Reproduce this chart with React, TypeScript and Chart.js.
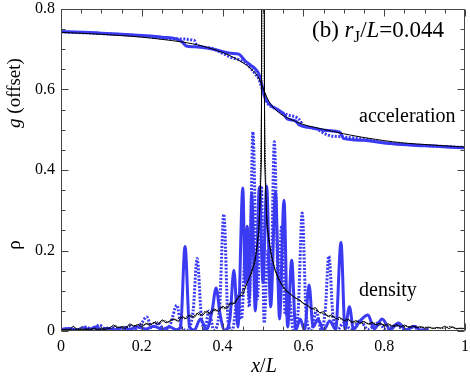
import React, { useEffect, useRef } from 'react';
import { Chart, registerables } from 'chart.js';

Chart.register(...registerables);

// ---- axis ticks ----
const X_TICKS = [0, 0.2, 0.4, 0.6, 0.8, 1];
const X_TICK_LABELS = ['0', '0.2', '0.4', '0.6', '0.8', '1'];
const Y_TICKS = [0, 0.2, 0.4, 0.6, 0.8];
const Y_TICK_LABELS = ['0', '0.2', '0.4', '0.6', '0.8'];

// ---- acceleration (offset) curves: [x/L, g] ----
const ACC_BLACK: [number, number][] = [
  [0, 0.742], [0.1, 0.737], [0.2, 0.730], [0.3, 0.718], [0.35, 0.708], [0.4, 0.692],
  [0.43, 0.678], [0.46, 0.660], [0.48, 0.642], [0.49, 0.628], [0.5, 0.604], [0.51, 0.580],
  [0.52, 0.562], [0.54, 0.542], [0.56, 0.530], [0.6, 0.513], [0.65, 0.501], [0.7, 0.490],
  [0.76, 0.479], [0.84, 0.468], [0.92, 0.462], [1.0, 0.457],
];
const ACC_SOLID: [number, number][] = [
  [0, 0.744], [0.1, 0.740], [0.2, 0.734], [0.25, 0.730], [0.29, 0.724], [0.30, 0.718],
  [0.31, 0.708], [0.33, 0.706], [0.36, 0.703], [0.39, 0.697], [0.42, 0.690], [0.44, 0.688],
  [0.455, 0.672], [0.47, 0.660], [0.48, 0.652], [0.49, 0.638], [0.50, 0.600], [0.505, 0.580],
  [0.52, 0.560], [0.54, 0.548], [0.55, 0.540], [0.56, 0.527], [0.58, 0.522], [0.59, 0.512],
  [0.62, 0.505], [0.66, 0.498], [0.69, 0.494], [0.70, 0.478], [0.75, 0.474], [0.8, 0.467],
  [0.9, 0.460], [1.0, 0.455],
];
const ACC_DOT: [number, number][] = [
  [0, 0.743], [0.1, 0.739], [0.2, 0.733], [0.28, 0.726], [0.33, 0.722], [0.335, 0.712],
  [0.37, 0.703], [0.40, 0.690], [0.42, 0.680], [0.44, 0.674], [0.46, 0.664], [0.47, 0.652],
  [0.48, 0.640], [0.49, 0.625], [0.50, 0.595], [0.51, 0.568], [0.53, 0.553], [0.56, 0.537],
  [0.58, 0.532], [0.59, 0.525], [0.60, 0.510], [0.63, 0.503], [0.66, 0.487], [0.70, 0.482],
  [0.75, 0.477], [0.8, 0.468], [0.9, 0.461], [1.0, 0.456],
];

// ---- density curves: [x/L, rho] ----
const RHO_SOLID: [number, number][] = [
  [0, 0.004], [0.02, 0.006], [0.04, 0.003], [0.055, 0.008], [0.07, 0.004], [0.085, 0.010],
  [0.1, 0.004], [0.115, 0.007], [0.13, 0.003], [0.15, 0.008], [0.17, 0.004], [0.19, 0.010],
  [0.21, 0.005], [0.23, 0.012], [0.25, 0.004], [0.27, 0.010], [0.285, 0.003], [0.296, 0.010],
  [0.307, 0.210], [0.318, 0.010], [0.33, 0.002], [0.345, 0.030], [0.36, 0.004], [0.374, 0.050],
  [0.384, 0.107], [0.394, 0.040], [0.405, 0.002], [0.418, 0.030], [0.428, 0.151], [0.438, 0.010],
  [0.45, 0.355], [0.456, 0.120], [0.461, 0.260], [0.466, 0.080], [0.472, 0.343], [0.481, 0.050],
  [0.491, 0.358], [0.5, 0.120], [0.509, 0.360], [0.519, 0.060], [0.531, 0.346], [0.541, 0.030],
  [0.552, 0.325], [0.561, 0.010], [0.571, 0.176], [0.581, 0.002], [0.592, 0.030], [0.603, 0.002],
  [0.614, 0.114], [0.624, 0.010], [0.636, 0.030], [0.65, 0.002], [0.665, 0.025], [0.68, 0.004],
  [0.693, 0.220], [0.703, 0.004], [0.714, 0.060], [0.724, 0.004], [0.74, 0.025], [0.76, 0.040],
  [0.775, 0.005], [0.795, 0.030], [0.815, 0.004], [0.835, 0.020], [0.855, 0.003], [0.875, 0.012],
  [0.89, 0.002], [0.91, 0.004],
];
const RHO_DOT: [number, number][] = [
  [0, 0.003], [0.02, 0.006], [0.04, 0.002], [0.06, 0.010], [0.08, 0.004], [0.095, 0.015],
  [0.11, 0.004], [0.13, 0.008], [0.15, 0.003], [0.17, 0.012], [0.185, 0.004], [0.2, 0.020],
  [0.212, 0.035], [0.225, 0.008], [0.24, 0.020], [0.255, 0.004], [0.27, 0.015], [0.287, 0.064],
  [0.298, 0.008], [0.312, 0.002], [0.327, 0.050], [0.337, 0.180], [0.347, 0.040], [0.356, 0.002],
  [0.366, 0.050], [0.378, 0.003], [0.392, 0.050], [0.403, 0.290], [0.414, 0.020], [0.424, 0.002],
  [0.438, 0.090], [0.447, 0.030], [0.458, 0.240], [0.466, 0.060], [0.475, 0.495], [0.486, 0.080],
  [0.496, 0.360], [0.503, 0.020], [0.512, 0.200], [0.519, 0.080], [0.528, 0.470], [0.538, 0.120],
  [0.546, 0.260], [0.555, 0.040], [0.563, 0.100], [0.575, 0.002], [0.587, 0.050], [0.597, 0.293],
  [0.607, 0.040], [0.619, 0.002], [0.632, 0.050], [0.644, 0.003], [0.654, 0.050], [0.663, 0.186],
  [0.673, 0.040], [0.683, 0.002], [0.7, 0.020], [0.718, 0.004], [0.74, 0.025], [0.76, 0.004],
  [0.785, 0.020], [0.805, 0.003], [0.83, 0.015], [0.85, 0.002], [0.87, 0.010], [0.89, 0.002],
  [0.9, 0.004],
];
const RHO_BLACK: [number, number][] = [
  [0, 0.003], [0.01, 0.004], [0.02, 0.002], [0.03, 0.012], [0.04, 0.004], [0.05, 0.003],
  [0.06, 0.005], [0.07, 0.004], [0.08, 0.006], [0.09, 0.003], [0.1, 0.005], [0.11, 0.004],
  [0.12, 0.007], [0.13, 0.015], [0.14, 0.008], [0.15, 0.010], [0.16, 0.006], [0.17, 0.018],
  [0.18, 0.012], [0.19, 0.016], [0.2, 0.011], [0.21, 0.019], [0.22, 0.014], [0.23, 0.022],
  [0.24, 0.016], [0.25, 0.028], [0.26, 0.020], [0.27, 0.025], [0.28, 0.030], [0.29, 0.024],
  [0.3, 0.036], [0.31, 0.030], [0.32, 0.040], [0.33, 0.034], [0.34, 0.046], [0.35, 0.038],
  [0.36, 0.050], [0.37, 0.042], [0.38, 0.055], [0.39, 0.048], [0.4, 0.062], [0.41, 0.055],
  [0.42, 0.070], [0.43, 0.068], [0.44, 0.085], [0.45, 0.090], [0.46, 0.118], [0.47, 0.140],
  [0.48, 0.170], [0.49, 0.250], [0.496, 0.420], [0.5, 3.0], [0.504, 0.420], [0.51, 0.260],
  [0.52, 0.190], [0.53, 0.150], [0.54, 0.125], [0.55, 0.110], [0.56, 0.098], [0.57, 0.090],
  [0.58, 0.082], [0.59, 0.078], [0.6, 0.068], [0.61, 0.064], [0.62, 0.055], [0.63, 0.058],
  [0.64, 0.045], [0.65, 0.048], [0.66, 0.036], [0.67, 0.040], [0.68, 0.030], [0.69, 0.034],
  [0.7, 0.025], [0.71, 0.030], [0.72, 0.021], [0.73, 0.026], [0.74, 0.019], [0.75, 0.024],
  [0.76, 0.017], [0.77, 0.022], [0.78, 0.015], [0.79, 0.020], [0.8, 0.013], [0.81, 0.018],
  [0.82, 0.011], [0.83, 0.016], [0.84, 0.010], [0.85, 0.015], [0.86, 0.009], [0.87, 0.013],
  [0.88, 0.008], [0.89, 0.011], [0.9, 0.007], [0.91, 0.010], [0.92, 0.006], [0.93, 0.009],
  [0.94, 0.007], [0.95, 0.012], [0.96, 0.006], [0.97, 0.010], [0.98, 0.005], [0.99, 0.007],
  [1.0, 0.006],
];
const RHO_BLACK_DOT: [number, number][] = [
  [0.005, 0.002], [0.015, 0.005], [0.025, 0.003], [0.035, 0.004], [0.045, 0.006], [0.055, 0.003],
  [0.065, 0.005], [0.075, 0.004], [0.085, 0.007], [0.095, 0.004], [0.105, 0.006], [0.115, 0.009],
  [0.125, 0.006], [0.135, 0.014], [0.145, 0.008], [0.155, 0.012], [0.165, 0.009], [0.175, 0.015],
  [0.185, 0.011], [0.195, 0.018], [0.205, 0.013], [0.215, 0.020], [0.225, 0.016], [0.235, 0.024],
  [0.245, 0.019], [0.255, 0.027], [0.265, 0.022], [0.275, 0.031], [0.285, 0.026], [0.295, 0.035],
  [0.305, 0.030], [0.315, 0.039], [0.325, 0.034], [0.335, 0.043], [0.345, 0.039], [0.355, 0.048],
  [0.365, 0.043], [0.375, 0.053], [0.385, 0.049], [0.395, 0.060], [0.405, 0.055], [0.415, 0.068],
  [0.425, 0.066], [0.435, 0.080], [0.445, 0.092], [0.455, 0.110], [0.465, 0.130], [0.475, 0.160],
  [0.485, 0.200], [0.492, 0.300], [0.497, 0.600], [0.4995, 2.5], [0.503, 0.600], [0.508, 0.300],
  [0.515, 0.220], [0.525, 0.170], [0.535, 0.140], [0.545, 0.118], [0.555, 0.100], [0.565, 0.094],
  [0.575, 0.085], [0.585, 0.080], [0.595, 0.072], [0.605, 0.066], [0.615, 0.059], [0.625, 0.054],
  [0.635, 0.050], [0.645, 0.043], [0.655, 0.042], [0.665, 0.035], [0.675, 0.036], [0.685, 0.028],
  [0.695, 0.031], [0.705, 0.024], [0.715, 0.027], [0.725, 0.020], [0.735, 0.024], [0.745, 0.018],
  [0.755, 0.021], [0.765, 0.016], [0.775, 0.020], [0.785, 0.014], [0.795, 0.017], [0.805, 0.012],
  [0.815, 0.016], [0.825, 0.011], [0.835, 0.014], [0.845, 0.010], [0.855, 0.013], [0.865, 0.009],
  [0.875, 0.012], [0.885, 0.008], [0.895, 0.010], [0.905, 0.007], [0.915, 0.009], [0.925, 0.006],
  [0.935, 0.008], [0.945, 0.006], [0.955, 0.009], [0.965, 0.012], [0.975, 0.006], [0.985, 0.007],
  [0.995, 0.005],
];

const BLUE = '#3a3af2';
const SERIF = 'Liberation Serif';
const FRAME = '#444';

const toXY = (p: [number, number][]) => p.map(([x, y]) => ({ x, y }));

const framePlugin = {
  id: 'framePlugin',
  afterDatasetsDraw(chart: any) {
    const { ctx, chartArea, scales } = chart;
    const { left, right, top, bottom } = chartArea;
    const xs = scales.x;
    const ys = scales.y;
    ctx.save();
    ctx.strokeStyle = FRAME;
    ctx.lineWidth = 1;
    const L = Math.round(left) + 0.5;
    const R = Math.round(right) - 0.5;
    const T = Math.round(top) + 0.5;
    const B = Math.round(bottom) - 0.5;
    ctx.beginPath();
    ctx.rect(L, T, R - L, B - T);
    ctx.stroke();
    ctx.beginPath();
    for (let k = 0; k <= 20; k++) {
      const v = k * 0.05;
      const major = k % 4 === 0;
      const len = major ? 7 : 4;
      const px = Math.round(xs.getPixelForValue(v)) + 0.5;
      ctx.moveTo(px, B); ctx.lineTo(px, B - len);
      ctx.moveTo(px, T); ctx.lineTo(px, T + len);
    }
    for (let k = 0; k <= 16; k++) {
      const v = k * 0.05;
      const major = k % 4 === 0;
      const len = major ? 7 : 4;
      const py = Math.round(ys.getPixelForValue(v)) + 0.5;
      ctx.moveTo(L, py); ctx.lineTo(L + len, py);
      ctx.moveTo(R, py); ctx.lineTo(R - len, py);
    }
    ctx.stroke();
    ctx.restore();
  },
  afterDraw(chart: any) {
    const { ctx } = chart;
    ctx.save();
    ctx.fillStyle = '#000';
    ctx.textBaseline = 'alphabetic';

    const drawRun = (parts: { t: string; f: string; dy?: number }[], x: number, y: number) => {
      let cx = x;
      for (const p of parts) {
        ctx.font = p.f;
        ctx.fillText(p.t, cx, y + (p.dy || 0));
        cx += ctx.measureText(p.t).width;
      }
      return cx;
    };
    const runWidth = (parts: { t: string; f: string }[]) => {
      let w = 0;
      for (const p of parts) { ctx.font = p.f; w += ctx.measureText(p.t).width; }
      return w;
    };

    const fs = 23;
    drawRun([
      { t: '(b) ', f: `${fs}px "${SERIF}"` },
      { t: 'r', f: `italic ${fs}px "${SERIF}"` },
      { t: 'J', f: `${Math.round(fs * 0.72)}px "${SERIF}"`, dy: 5 },
      { t: '/', f: `${fs}px "${SERIF}"` },
      { t: 'L', f: `italic ${fs}px "${SERIF}"` },
      { t: '=0.044', f: `${fs}px "${SERIF}"` },
    ], 312, 37);

    ctx.font = `20px "${SERIF}"`;
    ctx.fillText('acceleration', 359, 122);
    ctx.fillText('density', 359, 296);

    const xt = [
      { t: 'x', f: `italic 20px "${SERIF}"` },
      { t: '/', f: `20px "${SERIF}"` },
      { t: 'L', f: `italic 20px "${SERIF}"` },
    ];
    const xw = runWidth(xt);
    drawRun(xt, 264 - xw / 2, 372);

    const yt = [
      { t: 'g', f: `italic 19px "${SERIF}"` },
      { t: ' (offset)', f: `19px "${SERIF}"` },
    ];
    ctx.save();
    ctx.translate(20, 93);
    ctx.rotate(-Math.PI / 2);
    const yw = runWidth(yt);
    drawRun(yt, -yw / 2, 0);
    ctx.restore();

    ctx.save();
    ctx.translate(20, 245);
    ctx.rotate(-Math.PI / 2);
    ctx.font = `19px "${SERIF}"`;
    const rw = ctx.measureText('ρ').width;
    ctx.fillText('ρ', -rw / 2, 0);
    ctx.restore();

    ctx.restore();
  },
};

export default function App() {
  const ref = useRef<HTMLCanvasElement | null>(null);
  useEffect(() => {
    document.body.style.margin = '0';
    const canvas = ref.current!;
    const chart = new Chart(canvas, {
      type: 'line',
      data: {
        datasets: [
          { data: toXY(ACC_BLACK), borderColor: '#000', borderWidth: 1, pointRadius: 0, order: 0, tension: 0.3 },
          { data: toXY(RHO_BLACK), borderColor: '#000', borderWidth: 1, pointRadius: 0, order: 0 },
          { data: toXY(RHO_BLACK_DOT), borderColor: '#000', borderWidth: 1, borderDash: [1.5, 1], pointRadius: 0, order: 0 },
          { data: toXY(ACC_SOLID), borderColor: BLUE, borderWidth: 3, pointRadius: 0, order: 1, cubicInterpolationMode: 'monotone' },
          { data: toXY(RHO_SOLID), borderColor: BLUE, borderWidth: 3, pointRadius: 0, order: 1, cubicInterpolationMode: 'monotone' },
          { data: toXY(ACC_DOT), borderColor: BLUE, borderWidth: 3, borderDash: [2, 1.5], pointRadius: 0, order: 2, cubicInterpolationMode: 'monotone' },
          { data: toXY(RHO_DOT), borderColor: BLUE, borderWidth: 3, borderDash: [2, 1.5], pointRadius: 0, order: 2, cubicInterpolationMode: 'monotone' },
        ] as any,
      },
      options: {
        animation: false,
        responsive: false,
        events: [],
        layout: { padding: { left: 0, right: 5, top: 9, bottom: 0 } },
        plugins: { legend: { display: false }, tooltip: { enabled: false } },
        scales: {
          x: {
            type: 'linear',
            min: 0,
            max: 1,
            grid: { display: false, drawTicks: false },
            border: { display: false },
            afterBuildTicks: (s: any) => { s.ticks = X_TICKS.map((v) => ({ value: v })); },
            afterFit: (s: any) => { s.height = 45; s.paddingLeft = 0; s.paddingRight = 0; },
            ticks: {
              callback: (v: any) => X_TICK_LABELS[X_TICKS.indexOf(Number(v))] ?? '',
              font: { family: SERIF, size: 16 },
              color: '#000',
              padding: 6,
              maxRotation: 0,
              autoSkip: false,
            },
          },
          y: {
            type: 'linear',
            min: 0,
            max: 0.8,
            grid: { display: false, drawTicks: false },
            border: { display: false },
            afterBuildTicks: (s: any) => { s.ticks = Y_TICKS.map((v) => ({ value: v })); },
            afterFit: (s: any) => { s.width = 61; s.paddingTop = 0; s.paddingBottom = 0; },
            ticks: {
              callback: (v: any) => Y_TICK_LABELS[Y_TICKS.indexOf(Number(v))] ?? '',
              font: { family: SERIF, size: 16 },
              color: '#000',
              padding: 6,
              autoSkip: false,
            },
          },
        },
      },
      plugins: [framePlugin],
    });
    return () => chart.destroy();
  }, []);
  return (
    <div style={{ position: 'absolute', left: 0, top: 0, width: 470, height: 376, background: '#fff' }}>
      <canvas ref={ref} width={470} height={376} style={{ display: 'block' }} />
    </div>
  );
}
